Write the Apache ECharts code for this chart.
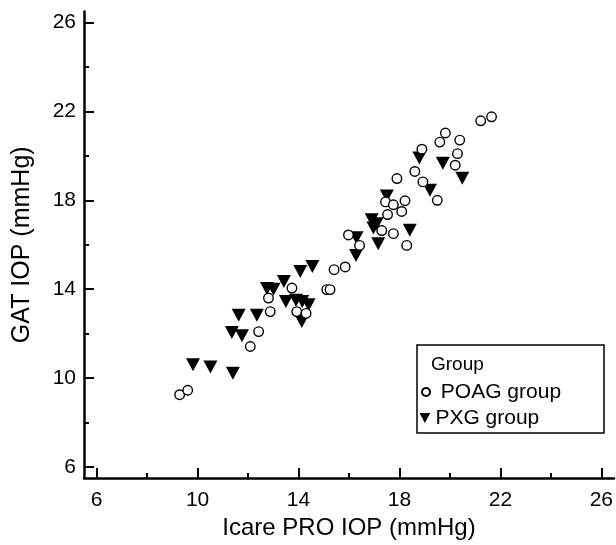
<!DOCTYPE html>
<html>
<head>
<meta charset="utf-8">
<script src="https://cdn.jsdelivr.net/npm/echarts@6/dist/echarts.min.js"></script>
<style>html,body{margin:0;padding:0;background:#fff}#c{width:616px;height:545px}</style>
</head>
<body>
<div id="c"></div>
<script>
// ---- data ----
var xMajorTicks = [6, 10, 14, 18, 22, 26];
var xMinorTicks = [8, 12, 16, 20, 24];
var yMajorTicks = [6, 10, 14, 18, 22, 26];
var yMinorTicks = [8, 12, 16, 20, 24];

var poagX = [9.29, 9.61, 12.09, 12.42, 12.88, 12.81, 13.74, 13.93, 14.30, 15.12, 15.25, 15.41, 15.85, 15.98, 16.42, 17.30, 17.76, 18.29, 17.53, 18.09, 17.45, 17.76, 18.22, 17.90, 18.61, 18.93, 19.50, 18.89, 19.60, 19.82, 20.39, 20.30, 20.21, 21.22, 21.65];
var poagY = [9.25, 9.45, 11.42, 12.09, 12.99, 13.60, 14.05, 12.99, 12.91, 13.98, 13.98, 14.88, 15.00, 16.44, 15.97, 16.64, 16.50, 15.97, 17.36, 17.50, 17.93, 17.80, 17.98, 18.98, 19.30, 18.83, 18.00, 20.30, 20.62, 21.03, 20.71, 20.10, 19.58, 21.58, 21.76];

var pxgX = [9.82, 10.51, 11.40, 11.36, 11.76, 11.63, 12.35, 12.75, 13.01, 13.42, 14.07, 14.55, 13.50, 13.90, 14.15, 14.40, 14.13, 16.30, 16.28, 16.90, 17.10, 16.97, 17.16, 17.50, 18.41, 18.79, 19.72, 19.21, 20.49];
var pxgY = [10.60, 10.50, 10.22, 12.05, 11.90, 12.83, 12.83, 14.03, 14.00, 14.35, 14.80, 15.02, 13.45, 13.50, 13.45, 13.30, 12.54, 16.32, 15.52, 17.12, 16.95, 16.75, 16.04, 18.20, 16.65, 19.90, 19.67, 18.45, 18.99];

var seriesNames = ['POAG group', 'PXG group'];
var legendTitle = 'Group';
var xName = 'Icare PRO IOP (mmHg)';
var yName = 'GAT IOP (mmHg)';

function pairs(xs, ys) { return xs.map(function (x, i) { return [x, ys[i]]; }); }

var FONT = '"Liberation Sans", Arial, sans-serif';
var triPath = 'path://M0,0L14,0L7,13Z';

function axisCommon(ticks, showLabel, tickLen, withLine, pos, margin) {
  return {
    type: 'value', min: 5.5, max: 26.5, position: pos,
    splitLine: { show: false },
    axisLine: { show: withLine, onZero: false, lineStyle: { color: '#000', width: 2.5 } },
    axisTick: { show: true, inside: true, length: tickLen, customValues: ticks, lineStyle: { color: '#000', width: 2 } },
    axisLabel: { show: showLabel, customValues: ticks, color: '#000', fontSize: 21, fontFamily: FONT, margin: margin }
  };
}

var chart = echarts.init(document.getElementById('c'));
var xMain = axisCommon(xMajorTicks, true, 10, true, 'bottom', 12);
xMain.name = xName; xMain.nameLocation = 'middle'; xMain.nameGap = 38;
xMain.nameTextStyle = { color: '#000', fontSize: 24, fontFamily: FONT };
var xMinor = axisCommon(xMinorTicks, false, 5, false, 'bottom', 12);
var yMain = axisCommon(yMajorTicks, true, 10, true, 'left', 8);
yMain.name = yName; yMain.nameLocation = 'middle'; yMain.nameGap = 49;
yMain.nameTextStyle = { color: '#000', fontSize: 25, fontFamily: FONT };
var yMinor = axisCommon(yMinorTicks, false, 5, false, 'left', 8);

chart.setOption({
  animation: false,
  backgroundColor: '#fff',
  grid: { left: 84, top: 11.5, width: 531, height: 469, containLabel: false },
  xAxis: [xMain, xMinor],
  yAxis: [yMain, yMinor],
  legend: [
    { data: [seriesNames[0]], left: 421, top: 381.5, padding: 0, itemWidth: 8, itemHeight: 8, itemGap: 0,
      formatter: function (n) { return ' ' + n; },
      textStyle: { color: '#000', fontSize: 21, fontFamily: FONT } },
    { data: [seriesNames[1]], left: 419.5, top: 407.5, padding: 0, itemWidth: 11, itemHeight: 10, itemGap: 0,
      textStyle: { color: '#000', fontSize: 21, fontFamily: FONT } }
  ],
  graphic: [
    { type: 'rect', shape: { x: 417, y: 345, width: 187, height: 88 },
      style: { fill: '#fff', stroke: '#000', lineWidth: 1.5 }, z: -1 },
    { type: 'text', left: 431, top: 355,
      style: { text: legendTitle, fill: '#000', font: '19px ' + FONT } }
  ],
  series: [
    { name: seriesNames[1], type: 'scatter', xAxisIndex: 0, yAxisIndex: 0,
      symbol: triPath, symbolSize: [14, 13],
      itemStyle: { color: '#000', borderWidth: 0, opacity: 1 },
      data: pairs(pxgX, pxgY), z: 2 },
    { name: seriesNames[0], type: 'scatter', xAxisIndex: 0, yAxisIndex: 0,
      symbol: 'circle', symbolSize: 9.5,
      itemStyle: { color: '#fff', borderColor: '#000', borderWidth: 1.4, opacity: 1 },
      data: pairs(poagX, poagY), z: 3 }
  ]
});
</script>
</body>
</html>
